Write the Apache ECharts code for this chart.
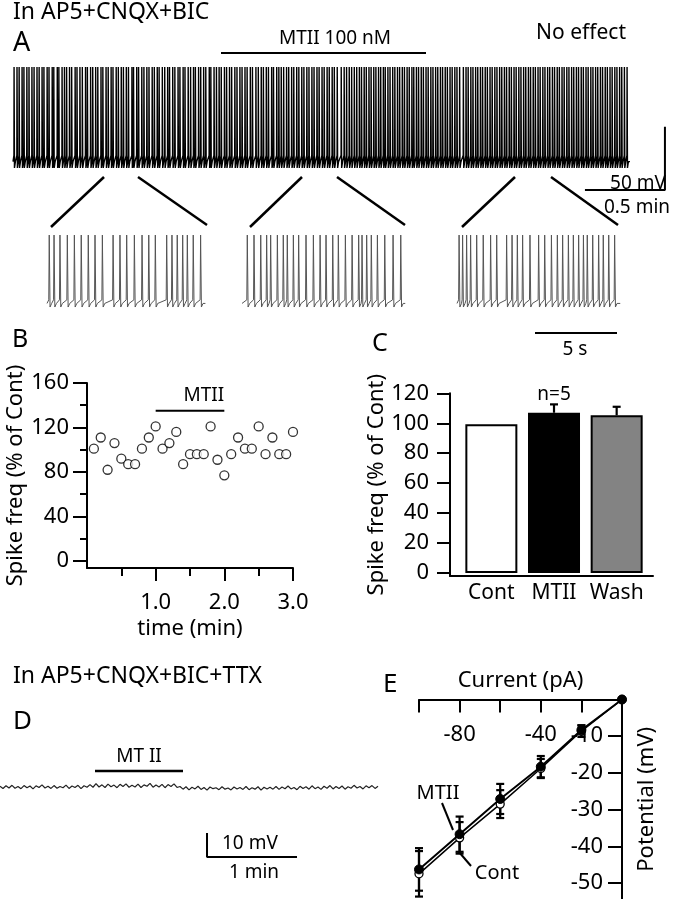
<!DOCTYPE html>
<html><head><meta charset="utf-8">
<script src="https://cdn.jsdelivr.net/npm/echarts@6/dist/echarts.min.js"></script>
<style>html,body{margin:0;padding:0;background:#fff}#c{width:677px;height:899px}</style>
</head><body><div id="c"></div>
<script>
// ---------------- data ----------------
// Panel A: main trace spike times (s), read approximately from the dense record
const mainSpikeTimes = [
 0.4,1.5,2.3,3.4,4.1,5.2,6.0,7.1,7.9,9.0,
 9.8,10.9,11.6,12.8,13.5,14.7,15.3,16.6,17.2,18.4,19.3,
 20.1,21.2,22.0,23.3,24.0,25.1,26.0,27.2,27.9,29.1,
 29.9,31.0,31.8,33.0,33.7,34.9,35.7,36.8,37.5,38.7,39.5,
 40.6,41.4,42.5,43.3,44.6,45.2,46.4,47.1,48.3,49.1,
 50.2,51.0,52.2,53.0,54.1,54.8,56.0,56.9,58.0,58.7,59.9,
 60.7,61.9,62.6,63.8,64.5,65.7,66.6,67.7,68.4,69.6,
 70.4,71.5,72.3,73.6,74.2,75.4,76.3,77.3,78.1,79.3,
 80.1,81.2,82.0,83.2,84.0,85.1,85.9,87.0,87.8,89.0,89.8,
 91.1,92.0,93.1,93.9,95.0,95.8,97.0,97.7,98.9,99.7,
 100.6,101.5,102.6,103.4,104.5,105.3,106.4,107.2,108.3,109.1,
 110.2,111.0,112.1,112.9,114.0,114.8,115.9,116.7,117.8,118.6,119.7,
 120.5,121.6,123.1,124.2,125.1,126.1,127.0,128.0,128.9,129.9,
 130.7,131.7,132.5,133.5,134.3,135.3,136.1,137.1,137.9,138.9,139.6,
 140.6,141.4,142.4,143.2,144.2,145.0,146.0,146.8,147.8,148.6,149.6,
 150.3,151.3,152.1,153.1,153.9,154.9,155.7,156.7,157.5,158.5,159.3,
 160.3,161.1,162.1,162.9,163.9,164.7,165.7,166.5,167.5,168.9,
 169.9,170.7,171.7,172.5,173.5,174.3,175.3,176.1,177.1,177.9,178.9,179.7,
 180.7,181.5,182.5,183.3,184.3,185.1,186.1,186.9,187.9,188.7,189.7,
 190.5,191.5,192.3,193.3,194.1,195.1,195.9,196.9,197.7,198.7,199.5,
 200.5,201.3,202.3,203.1,204.1,204.9,205.9,206.7,207.7,208.5,209.5,
 210.3,211.3,212.1,213.1,213.9,214.9,215.7,216.7,217.5,218.5,219.3,
 220.3,221.1,222.1,222.9,223.9,224.7,225.7,226.5,227.5,228.3,229.3,230.3
];
// Panel A insets: spike times (s) in the 10 s windows
const insetCont = [0.14,0.44,0.81,1.27,1.71,2.14,2.58,3.0,3.46,4.13,4.56,4.98,5.46,5.94,6.36,6.77,7.48,7.81,8.14,8.48,8.77,9.14,9.6];
const insetMTII = [0.33,0.75,1.17,1.54,1.79,2.21,2.58,2.83,3.21,3.54,4.0,4.46,4.88,5.25,5.67,6.02,6.46,6.88,7.29,7.5,7.79,8.08,8.46,8.92,9.44,9.92];
const insetWash = [0.13,0.35,0.6,0.85,1.23,1.64,2.1,2.48,3.1,3.44,3.77,4.1,4.56,5.1,5.48,5.9,6.27,6.6,6.96,7.27,7.6,7.9,8.14,8.48,8.85,9.14,9.48,9.85];
// Panel B
const bTime = [0.1,0.2,0.3,0.4,0.5,0.6,0.7,0.8,0.9,1.0,1.1,1.2,1.3,1.4,1.5,1.6,1.7,1.8,1.9,2.0,2.1,2.2,2.3,2.4,2.5,2.6,2.7,2.8,2.9,3.0];
const bFreq = [101,111,82,106,92,87,87,101,111,121,101,106,116,87,96,96,96,121,91,77,96,111,101,101,121,96,111,96,96,116];
const bXTicks = [1, 2, 3];
const bXMinor = [0.5, 1.5, 2.5];
const bYTicks = [0, 40, 80, 120, 160];
const bYMinor = [20, 60, 100, 140];
// Panel C
const cCats = ['Cont', 'MTII', 'Wash'];
const cMean = [99.3, 107, 105.3];
const cErr = [0, 5.6, 5.7];
const cYTicks = [0, 20, 40, 60, 80, 100, 120];
// Panel D: membrane potential deviation (mV), one value every 2 s
const ttxNoise = [
 0.3,-0.6,0.5,-0.4,0.7,-0.5,0.2,-0.7,0.6,-0.3,0.4,-0.8,0.5,-0.2,0.9,-0.4,0.3,-0.6,0.6,-0.5,0.2,-0.3,0.8,-0.6,0.4,-0.2,0.7,-0.7,0.5,-0.1,
 1.0,-0.1,1.4,0.0,0.9,-0.2,1.2,0.1,0.8,-0.3,1.1,0.2,1.3,-0.1,0.7,0.0,1.2,-0.2,0.9,0.3,1.5,-0.1,0.8,0.0,1.1,-0.3,1.0,0.2,1.3,-0.2,
 0.2,-0.9,0.1,-1.2,-0.1,-0.8,0.3,-1.0,-0.2,-1.3,0.0,-0.7,-0.3,-1.1,0.1,-0.9,-0.4,-1.2,0.0,-0.8,-0.2,-1.0,0.2,-1.1,-0.3,-0.9,0.1,-1.3,-0.1,-0.8,
 -0.1,-0.9,0.2,-1.0,0.0,-0.7,0.4,-0.8,-0.2,-1.1,0.3,-0.6,0.1,-0.9,0.5,-0.7,0.0,-1.0,0.3,-0.5,0.6,-0.8,0.2,-0.6,0.4,-0.9,0.1,-0.5,0.7,-0.4,0.2,-0.8,0.5,-0.3,0.6,-0.6,0.3
];
// Panel E
const eCurrent = [-100, -80, -60, -40, -20, 0];
const eMTII = [-46.3, -36.7, -27.1, -18.3, -8.3, 0];
const eMTIIerr = [5.8, 4.8, 4.1, 2.9, 1.2, 0];
const eCont = [-47.5, -37.7, -28.5, -18.8, -8.6, 0];
const eContErr = [6.2, 4.3, 3.8, 2.6, 1.6, 0];
const eXTicks = [-100, -80, -60, -40, -20];
const eXLabels = [-80, -40];
const eYTicks = [-50, -40, -30, -20, -10];

// ---------------- helpers ----------------
const FONT = "'Noto Sans', 'DejaVu Sans', sans-serif";
function spikeTrace(times, end, p) {
  const pts = [[0, p.rest]];
  times.forEach(t => {
    pts.push([t - p.pre, p.thr], [t, p.peak], [t + p.fall, p.trough], [t + p.rec, p.trough + p.recAmp]);
  });
  pts.push([end, p.rest]);
  return pts;
}
const mainP = {rest: -55, thr: -50, peak: 20, trough: -60, pre: 0.05, fall: 0.15, rec: 0.5, recAmp: 5};
const insetP = {rest: -56, thr: -52, peak: 20, trough: -60, pre: 0.03, fall: 0.05, rec: 0.15, recAmp: 4};

function errRender(params, api) {
  const x = api.value(0), y = api.value(1), e = api.value(2), upOnly = api.value(3);
  if (!e) return null;
  const top = api.coord([x, y + e]);
  const bot = api.coord([x, upOnly ? y : y - e]);
  const w = 4;
  const st = {stroke: '#000', lineWidth: 2.2};
  const ch = [
    {type: 'line', shape: {x1: top[0], y1: top[1], x2: bot[0], y2: bot[1]}, style: st},
    {type: 'line', shape: {x1: top[0] - w, y1: top[1], x2: top[0] + w, y2: top[1]}, style: st}
  ];
  if (!upOnly) ch.push({type: 'line', shape: {x1: bot[0] - w, y1: bot[1], x2: bot[0] + w, y2: bot[1]}, style: st});
  return {type: 'group', children: ch};
}

const hiddenX = (min, max, g) => ({type: 'value', gridIndex: g, min, max, show: false});
const hiddenY = (min, max, g) => ({type: 'value', gridIndex: g, min, max, show: false});
const blackLine = {lineStyle: {color: '#000', width: 2}};
const lab = (sz) => ({color: '#000', fontSize: sz, fontFamily: FONT});
const plainLabel = (sz) => ({color: '#000', fontSize: sz, fontFamily: FONT, textBorderWidth: 0, textShadowBlur: 0, opacity: 1});

const chart = echarts.init(document.getElementById('c'), null, {renderer: 'canvas'});

const option = {
  animation: false,
  backgroundColor: '#fff',
  textStyle: {fontFamily: FONT, color: '#000'},
  grid: [
    {left: 13, top: 60, width: 657, height: 135},   // 0 main trace
    {left: 47, top: 230, width: 160, height: 80},   // 1 inset cont
    {left: 242, top: 230, width: 165, height: 80},  // 2 inset MTII
    {left: 457, top: 230, width: 165, height: 80},  // 3 inset wash
    {left: 87, top: 383, width: 206, height: 185},  // 4 B
    {left: 450, top: 393.3, width: 203, height: 182.7}, // 5 C
    {left: 0, top: 770, width: 380, height: 90},    // 6 D
    {left: 419, top: 699.5, width: 203, height: 199.5} // 7 E
  ],
  xAxis: [
    hiddenX(0, 246.4, 0),
    hiddenX(0, 10, 1),
    hiddenX(0, 10.31, 2),
    hiddenX(0, 10.31, 3),
    { // 4 B
      type: 'value', gridIndex: 4, min: 0, max: 3, position: 'bottom',
      axisLine: {onZero: false, ...blackLine},
      axisTick: {customValues: bXTicks, length: 13, lineStyle: {color: '#000', width: 2}},
      axisLabel: {customValues: bXTicks, formatter: v => v.toFixed(1), margin: 24, ...lab(22)},
      splitLine: {show: false},
      name: 'time (min)', nameLocation: 'middle', nameGap: 50, nameTextStyle: lab(22)
    },
    { // 5 B minor ticks
      type: 'value', gridIndex: 4, min: 0, max: 3, position: 'bottom', offset: 0,
      axisLine: {show: false, onZero: false},
      axisTick: {customValues: bXMinor, length: 8, lineStyle: {color: '#000', width: 2}},
      axisLabel: {show: false}, splitLine: {show: false}
    },
    { // 6 C
      type: 'value', gridIndex: 5, min: -0.66, max: 2.58, position: 'bottom',
      axisLine: {onZero: false, ...blackLine},
      axisTick: {show: false},
      axisLabel: {customValues: [0, 1, 2], formatter: v => cCats[Math.round(v)], margin: 7, ...lab(21)},
      splitLine: {show: false}
    },
    hiddenX(0, 4.222, 6),
    { // 8 E
      type: 'value', gridIndex: 7, min: -100, max: 0, position: 'top',
      axisLine: {onZero: false, ...blackLine},
      axisTick: {inside: true, customValues: eXTicks, length: 13, lineStyle: {color: '#000', width: 2}},
      axisLabel: {inside: true, customValues: eXLabels, margin: 24, ...lab(22)},
      splitLine: {show: false},
      name: 'Current (pA)', nameLocation: 'middle', nameGap: 8, nameTextStyle: lab(22)
    }
  ],
  yAxis: [
    hiddenY(-81.4, 25.5, 0),
    hiddenY(-63.3, 25.6, 1),
    hiddenY(-63.3, 25.6, 2),
    hiddenY(-63.3, 25.6, 3),
    { // 4 B
      type: 'value', gridIndex: 4, min: -6.3, max: 160, position: 'left',
      axisLine: {onZero: false, ...blackLine},
      axisTick: {customValues: bYTicks, length: 14, lineStyle: {color: '#000', width: 2}},
      axisLabel: {customValues: bYTicks, margin: 18, ...lab(22)},
      splitLine: {show: false},
      name: 'Spike freq (% of Cont)', nameLocation: 'middle', nameRotate: 90, nameGap: 60, nameTextStyle: lab(22)
    },
    { // 5 B minor
      type: 'value', gridIndex: 4, min: -6.3, max: 160, position: 'left', offset: 0,
      axisLine: {show: false, onZero: false},
      axisTick: {customValues: bYMinor, length: 7, lineStyle: {color: '#000', width: 2}},
      axisLabel: {show: false}, splitLine: {show: false}
    },
    { // 6 C
      type: 'value', gridIndex: 5, min: -2, max: 120, position: 'left',
      axisLine: {onZero: false, ...blackLine},
      axisTick: {customValues: cYTicks, length: 13, lineStyle: {color: '#000', width: 2}},
      axisLabel: {customValues: cYTicks, margin: 21, ...lab(22)},
      splitLine: {show: false},
      name: 'Spike freq (% of Cont)', nameLocation: 'middle', nameRotate: 90, nameGap: 61, nameTextStyle: lab(22)
    },
    hiddenY(-30.4, 7.08, 6),
    { // 8 E
      type: 'value', gridIndex: 7, min: -54.36, max: 0, position: 'right',
      axisLine: {onZero: false, ...blackLine},
      axisTick: {inside: true, customValues: eYTicks, length: 14, lineStyle: {color: '#000', width: 2}},
      axisLabel: {inside: true, customValues: eYTicks, margin: 19, ...lab(22)},
      splitLine: {show: false},
      name: 'Potential (mV)', nameLocation: 'middle', nameRotate: 90, nameGap: 14, nameTextStyle: lab(22)
    }
  ],
  series: [
    // A main trace
    {type: 'line', xAxisIndex: 0, yAxisIndex: 0, data: spikeTrace(mainSpikeTimes, 231.4, mainP),
     symbol: 'none', lineStyle: {color: '#000', width: 1.4}, silent: true},
    // A scale bar (0.5 min, 50 mV)
    {type: 'line', xAxisIndex: 0, yAxisIndex: 0, data: [[214.5, -77.4], [244.5, -77.4], [244.5, -27.4]],
     symbol: 'none', lineStyle: {color: '#000', width: 2}, silent: true},
    // insets
    {type: 'line', xAxisIndex: 1, yAxisIndex: 1, data: spikeTrace(insetCont, 9.9, insetP),
     symbol: 'none', lineStyle: {color: '#555', width: 1}, silent: true},
    {type: 'line', xAxisIndex: 2, yAxisIndex: 2, data: spikeTrace(insetMTII, 10.2, insetP),
     symbol: 'none', lineStyle: {color: '#555', width: 1}, silent: true},
    {type: 'line', xAxisIndex: 3, yAxisIndex: 3, data: spikeTrace(insetWash, 10.2, insetP),
     symbol: 'none', lineStyle: {color: '#555', width: 1}, silent: true},
    // B
    {type: 'line', xAxisIndex: 4, yAxisIndex: 4, data: [[1, 135], [2, 135]], symbol: 'none',
     lineStyle: {color: '#000', width: 2}, silent: true,
     markPoint: {symbol: 'circle', symbolSize: 0, silent: true,
       label: {show: true, position: 'inside', formatter: 'MTII', ...plainLabel(19)},
       data: [{coord: [1.7, 149]}]}},
    {type: 'scatter', xAxisIndex: 4, yAxisIndex: 4, data: bTime.map((t, i) => [t, bFreq[i]]),
     symbol: 'circle', symbolSize: 9, itemStyle: {color: '#fff', borderColor: '#000', borderWidth: 1.3}, silent: true},
    // C
    {type: 'bar', xAxisIndex: 6, yAxisIndex: 6, barWidth: 52,
     data: cMean.map((v, i) => ({value: [i, v], itemStyle: {color: ['#fff', '#000', '#838383'][i]}})),
     itemStyle: {borderColor: '#000', borderWidth: 2}, silent: true,
     markPoint: {symbol: 'circle', symbolSize: 0, silent: true,
       label: {show: true, position: 'inside', formatter: 'n=5', ...plainLabel(19)},
       data: [{coord: [1, 119]}]}},
    {type: 'custom', xAxisIndex: 6, yAxisIndex: 6, renderItem: errRender,
     data: cMean.map((v, i) => [i, v, cErr[i], 1]), silent: true, z: 5},
    // D trace and scale bar
    {type: 'line', xAxisIndex: 7, yAxisIndex: 7, data: ttxNoise.map((v, i) => [i / 30, v]),
     symbol: 'none', lineStyle: {color: '#222', width: 1.2}, silent: true},
    {type: 'line', xAxisIndex: 7, yAxisIndex: 7, data: [[2.3, -19.2], [2.3, -29.2], [3.3, -29.2]],
     symbol: 'none', lineStyle: {color: '#000', width: 2}, silent: true},
    // E
    {type: 'custom', xAxisIndex: 8, yAxisIndex: 8, renderItem: errRender,
     data: eCurrent.map((c, i) => [c, eCont[i], eContErr[i], 0]), silent: true, z: 2},
    {type: 'custom', xAxisIndex: 8, yAxisIndex: 8, renderItem: errRender,
     data: eCurrent.map((c, i) => [c, eMTII[i], eMTIIerr[i], 0]), silent: true, z: 3},
    {type: 'line', xAxisIndex: 8, yAxisIndex: 8, data: eCurrent.map((c, i) => [c, eCont[i]]),
     symbol: 'circle', symbolSize: 8, showSymbol: true,
     lineStyle: {color: '#000', width: 1.5}, itemStyle: {color: '#fff', borderColor: '#000', borderWidth: 1.3}, silent: true, z: 4},
    {type: 'line', xAxisIndex: 8, yAxisIndex: 8, data: eCurrent.map((c, i) => [c, eMTII[i]]),
     symbol: 'circle', symbolSize: 9, showSymbol: true,
     lineStyle: {color: '#000', width: 2}, itemStyle: {color: '#000', borderColor: '#000', borderWidth: 1}, silent: true, z: 5}
  ],
  graphic: [
    {type: 'text', x: 13, y: 12, style: {text: 'In AP5+CNQX+BIC', font: '23px ' + FONT, fill: '#000', textVerticalAlign: 'middle'}},
    {type: 'text', x: 13, y: 43, style: {text: 'A', font: '27px ' + FONT, fill: '#000', textVerticalAlign: 'middle'}},
    {type: 'text', x: 335, y: 39, style: {text: 'MTII 100 nM', font: '19px ' + FONT, fill: '#000', textAlign: 'center', textVerticalAlign: 'middle'}},
    {type: 'line', shape: {x1: 221, y1: 53, x2: 426, y2: 53}, style: {stroke: '#000', lineWidth: 2}},
    {type: 'text', x: 581, y: 33, style: {text: 'No effect', font: '21px ' + FONT, fill: '#000', textAlign: 'center', textVerticalAlign: 'middle'}},
    {type: 'text', x: 638, y: 184, style: {text: '50 mV', font: '19px ' + FONT, fill: '#000', textAlign: 'center', textVerticalAlign: 'middle'}},
    {type: 'text', x: 637, y: 208, style: {text: '0.5 min', font: '19px ' + FONT, fill: '#000', textAlign: 'center', textVerticalAlign: 'middle'}},
    {type: 'line', shape: {x1: 104, y1: 177, x2: 51, y2: 227}, style: {stroke: '#000', lineWidth: 2.5}},
    {type: 'line', shape: {x1: 138, y1: 177, x2: 207, y2: 225}, style: {stroke: '#000', lineWidth: 2.5}},
    {type: 'line', shape: {x1: 302, y1: 177, x2: 250, y2: 227}, style: {stroke: '#000', lineWidth: 2.5}},
    {type: 'line', shape: {x1: 337, y1: 177, x2: 405, y2: 225}, style: {stroke: '#000', lineWidth: 2.5}},
    {type: 'line', shape: {x1: 515, y1: 177, x2: 462, y2: 227}, style: {stroke: '#000', lineWidth: 2.5}},
    {type: 'line', shape: {x1: 551, y1: 177, x2: 618, y2: 225}, style: {stroke: '#000', lineWidth: 2.5}},
    {type: 'line', shape: {x1: 535, y1: 333, x2: 617, y2: 333}, style: {stroke: '#000', lineWidth: 2}},
    {type: 'text', x: 575, y: 350, style: {text: '5 s', font: '19px ' + FONT, fill: '#000', textAlign: 'center', textVerticalAlign: 'middle'}},
    {type: 'text', x: 12, y: 340, style: {text: 'B', font: '25px ' + FONT, fill: '#000', textVerticalAlign: 'middle'}},
    {type: 'text', x: 372, y: 344, style: {text: 'C', font: '25px ' + FONT, fill: '#000', textVerticalAlign: 'middle'}},
    {type: 'text', x: 13, y: 676, style: {text: 'In AP5+CNQX+BIC+TTX', font: '23px ' + FONT, fill: '#000', textVerticalAlign: 'middle'}},
    {type: 'text', x: 13, y: 722, style: {text: 'D', font: '26px ' + FONT, fill: '#000', textVerticalAlign: 'middle'}},
    {type: 'text', x: 139, y: 757, style: {text: 'MT II', font: '19px ' + FONT, fill: '#000', textAlign: 'center', textVerticalAlign: 'middle'}},
    {type: 'line', shape: {x1: 95, y1: 771, x2: 183, y2: 771}, style: {stroke: '#000', lineWidth: 2.5}},
    {type: 'text', x: 222, y: 844, style: {text: '10 mV', font: '19px ' + FONT, fill: '#000', textVerticalAlign: 'middle'}},
    {type: 'text', x: 254, y: 873, style: {text: '1 min', font: '19px ' + FONT, fill: '#000', textAlign: 'center', textVerticalAlign: 'middle'}},
    {type: 'text', x: 383, y: 685, style: {text: 'E', font: '26px ' + FONT, fill: '#000', textVerticalAlign: 'middle'}},
    {type: 'text', x: 438, y: 793, style: {text: 'MTII', font: '20px ' + FONT, fill: '#000', textAlign: 'center', textVerticalAlign: 'middle'}},
    {type: 'line', shape: {x1: 442, y1: 803, x2: 453, y2: 830}, style: {stroke: '#000', lineWidth: 2}},
    {type: 'text', x: 497, y: 873, style: {text: 'Cont', font: '20px ' + FONT, fill: '#000', textAlign: 'center', textVerticalAlign: 'middle'}},
    {type: 'line', shape: {x1: 459, y1: 852, x2: 471, y2: 866}, style: {stroke: '#000', lineWidth: 2}}
  ]
};
chart.setOption(option);
</script>
</body></html>
